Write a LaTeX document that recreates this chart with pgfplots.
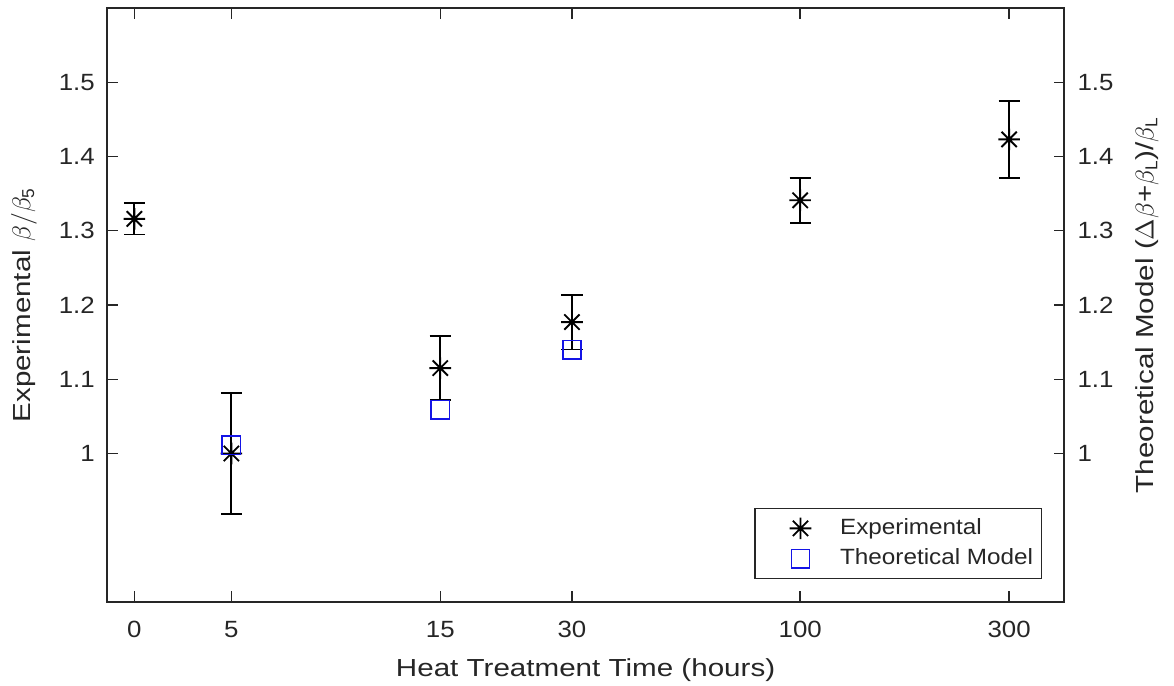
\documentclass[border=0pt]{standalone}
\usepackage{pgfplots}
\pgfplotsset{compat=1.18}
\usepackage{fontspec}
\setmainfont{Liberation Sans}
\newfontfamily\tickfont[FakeStretch=1.1]{Liberation Sans}
\newfontfamily\labfont[FakeStretch=1.2]{Liberation Sans}
\definecolor{axgray}{RGB}{38,38,38}
\definecolor{mblue}{RGB}{20,20,230}

% matlab style asterisk: 8 spokes
\pgfdeclareplotmark{mstar}{%
  \pgfpathmoveto{\pgfqpoint{-\pgfplotmarksize}{0pt}}\pgfpathlineto{\pgfqpoint{\pgfplotmarksize}{0pt}}%
  \pgfpathmoveto{\pgfqpoint{0pt}{-\pgfplotmarksize}}\pgfpathlineto{\pgfqpoint{0pt}{\pgfplotmarksize}}%
  \pgfpathmoveto{\pgfqpoint{-.707\pgfplotmarksize}{-.707\pgfplotmarksize}}\pgfpathlineto{\pgfqpoint{.707\pgfplotmarksize}{.707\pgfplotmarksize}}%
  \pgfpathmoveto{\pgfqpoint{-.707\pgfplotmarksize}{.707\pgfplotmarksize}}\pgfpathlineto{\pgfqpoint{.707\pgfplotmarksize}{-.707\pgfplotmarksize}}%
  \pgfusepathqstroke}

\pgfplotsset{
  common/.style={
    scale only axis, width=407.6pt, height=253pt,
    xmin=-0.273, xmax=9.30, ymin=0.8, ymax=1.6,
    ytick={1,1.1,1.2,1.3,1.4,1.5}, yticklabels={1,1.1,1.2,1.3,1.4,1.5},
    tick align=inside, major tick length=4.5pt,
    axis line style={axgray, line width=0.6pt},
    every tick/.style={axgray, line width=0.6pt},
    tick label style={text=axgray, font=\tickfont\fontsize{10}{12}\selectfont},
    label style={text=axgray, font=\labfont\fontsize{10.5}{12.5}\selectfont},
    /pgf/number format/assume math mode=true,
  },
  mklegend/.style={legend image code/.code={%
    \path (0pt,0pt) (32pt,0pt);
    \draw[mark repeat=2,mark phase=2,##1] plot coordinates {(0pt,0pt) (17.5pt,0pt) (32pt,0pt)};}},
}

\begin{document}
\begin{tikzpicture}
\begin{axis}[common,
  xtick={0,0.97,3.06,4.377,6.66,8.75}, xticklabels={0,5,15,30,100,300},
  xticklabel style={yshift=-4.5pt},
  yticklabel style={xshift=-1.7pt},
  ytick pos=left,
  xlabel={Heat Treatment Time (hours)},
  xlabel style={at={(axis description cs:0.5,0)}, anchor=center, yshift=-29pt},
  ylabel={Experimental $\beta/\beta_{\mathrm{5}}$},
  ylabel style={at={(axis description cs:0,0.5)}, anchor=center, yshift=35.4pt},
  legend cell align=left,
  legend style={at={(rel axis cs:1,0)}, anchor=south east, xshift=-9.4pt, yshift=9.8pt,
    draw=axgray, line width=0.6pt, text=axgray, inner xsep=1.5pt, inner ysep=2.2pt,
    font=\tickfont\fontsize{9.4}{11}\selectfont, row sep=0.6pt},
]
\addplot[only marks, mark=mstar, mark size=4.6pt, black, line width=0.8pt, mklegend,
  error bars/.cd, y dir=both, y explicit,
  error bar style={black, line width=0.8pt},
  error mark options={black, mark size=4.5pt, line width=0.8pt, rotate=90}]
  table[x=x, y=y, y error=e] {
  x      y      e
  0      1.316  0.021
  0.97   1.000  0.081
  3.06   1.115  0.0435
  4.377  1.177  0.037
  6.66   1.341  0.030
  8.75   1.423  0.052
};
\addplot[only marks, mark=square, mark size=3.9pt, mblue, line width=0.7pt, mklegend]
  coordinates {(0.97,1.011) (3.06,1.059) (4.377,1.140)};
\legend{Experimental, Theoretical Model}
\coordinate (sw) at (rel axis cs:0,0);
\coordinate (ne) at (rel axis cs:1,1);
\end{axis}
\begin{axis}[common,
  axis y line*=right, axis x line=none,
  yticklabel style={xshift=2.2pt},
  ylabel={Theoretical Model ($\Delta\beta$+$\beta_{\mathrm{L}}$)/$\beta_{\mathrm{L}}$},
  ylabel style={at={(axis description cs:1,0.5)}, anchor=center, yshift=-35.4pt},
]
\end{axis}
\pgfresetboundingbox
\path ([shift={(-45.6pt,-35.4pt)}]sw) rectangle ([shift={(46.8pt,3.4pt)}]ne);
\end{tikzpicture}
\end{document}
